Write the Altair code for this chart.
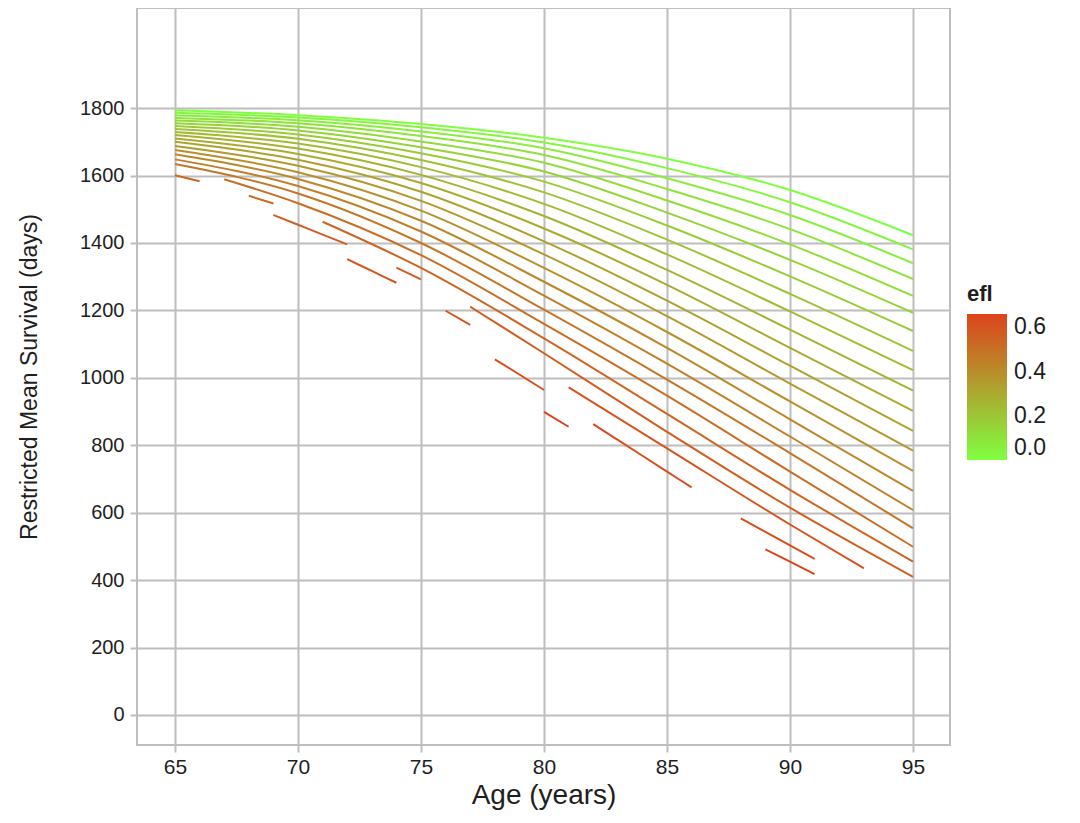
import altair as alt
import pandas as pd

# ---- data ----
EFL = [0.00, 0.03, 0.06, 0.09, 0.12, 0.15, 0.18, 0.21, 0.24, 0.27, 0.30, 0.33,
       0.36, 0.39, 0.42, 0.45, 0.48, 0.51, 0.54, 0.57, 0.60, 0.63, 0.66]

AGE_KNOTS = [65, 70, 75, 80, 85, 90, 95]

# curves 0..16 are drawn over the whole age range
RMS_65 = [1794, 1786, 1778, 1771, 1763, 1755, 1747, 1738, 1729, 1720, 1710, 1700, 1688, 1676, 1663, 1648, 1634]
RMS_70 = [1779, 1772, 1764, 1755, 1745, 1734, 1722, 1709, 1695, 1680, 1664, 1647, 1629, 1610, 1590, 1569, 1547]
RMS_75 = [1753, 1743, 1731, 1717, 1701, 1684, 1666, 1646, 1625, 1602, 1578, 1552, 1525, 1496, 1466, 1434, 1400]
RMS_80 = [1712, 1698, 1681, 1661, 1638, 1612, 1582, 1550, 1516, 1480, 1443, 1405, 1366, 1326, 1285, 1244, 1202]
RMS_85 = [1650, 1622, 1592, 1560, 1526, 1490, 1452, 1410, 1366, 1320, 1276, 1229, 1183, 1136, 1089, 1042, 995]
RMS_90 = [1557, 1521, 1483, 1441, 1396, 1350, 1301, 1249, 1197, 1143, 1089, 1036, 983, 930, 877, 826, 777]
RMS_95 = [1423, 1381, 1340, 1293, 1243, 1193, 1139, 1080, 1023, 962, 902, 843, 784, 724, 665, 608, 554]

# curves 17..22 are broken into pieces: [(age, rms), ...]
C17_PIECES = [[(67, 1589), (70, 1518), (75, 1364), (80, 1160), (85, 947), (90, 722), (95, 499)]]
C18_PIECES = [[(65, 1601), (66, 1583)],
              [(68, 1540), (69, 1517)],
              [(71, 1463), (75, 1326), (80, 1117), (85, 893), (90, 668), (95, 455)]]
C19_PIECES = [[(69, 1483), (70, 1454), (71, 1425), (72, 1396)],
              [(74, 1327), (75, 1292)],
              [(77, 1211), (80, 1073), (85, 840), (90, 615), (95, 410)]]
C20_PIECES = [[(72, 1352), (73, 1317), (74, 1282)],
              [(76, 1199), (77, 1157)],
              [(81, 972), (85, 791), (90, 565), (93, 435)]]
C21_PIECES = [[(78, 1055), (79, 1010), (80, 964)],
              [(82, 863), (83, 816), (84, 769), (85, 722), (86, 675)],
              [(88, 583), (89, 543), (90, 503), (91, 463)]]
C22_PIECES = [[(80, 899), (81, 855)],
              [(89, 491), (90, 455), (91, 418)]]

X_TICKS = [65, 70, 75, 80, 85, 90, 95]
Y_TICKS = [0, 200, 400, 600, 800, 1000, 1200, 1400, 1600, 1800]
LEGEND_TICKS = [0.0, 0.2, 0.4, 0.6]

# ---- build long table ----
rows = []
columns = [RMS_65, RMS_70, RMS_75, RMS_80, RMS_85, RMS_90, RMS_95]
for k in range(len(RMS_65)):
    for age, col in zip(AGE_KNOTS, columns):
        rows.append({"efl": EFL[k], "age": age, "rms": col[k], "seg": f"c{k}-p0"})

partial = {17: C17_PIECES, 18: C18_PIECES, 19: C19_PIECES,
           20: C20_PIECES, 21: C21_PIECES, 22: C22_PIECES}
for k, pieces in partial.items():
    for p, piece in enumerate(pieces):
        for age, v in piece:
            rows.append({"efl": EFL[k], "age": age, "rms": v, "seg": f"c{k}-p{p}"})

df = pd.DataFrame(rows)

GRID = "#BEBEBE"
TXT = "#1E1E1E"

chart = alt.Chart(df).mark_line(strokeWidth=2, interpolate="monotone").encode(
    x=alt.X("age:Q",
            scale=alt.Scale(domain=[63.455, 96.504], nice=False, zero=False),
            axis=alt.Axis(values=X_TICKS, title="Age (years)", format="d",
                          labelFontSize=21, titleFontSize=28, titleFontWeight="normal",
                          labelColor=TXT, titleColor=TXT, labelPadding=4,
                          tickSize=7, tickColor=GRID, tickWidth=2,
                          grid=True, gridColor=GRID, gridWidth=2,
                          domain=False, titlePadding=4)),
    y=alt.Y("rms:Q",
            scale=alt.Scale(domain=[-89, 2097], nice=False, zero=False),
            axis=alt.Axis(values=Y_TICKS, title="Restricted Mean Survival (days)", format="d",
                          labelFontSize=20, titleFontSize=23, titleFontWeight="normal",
                          labelColor=TXT, titleColor=TXT, labelPadding=6,
                          tickSize=7, tickColor=GRID, tickWidth=2,
                          grid=True, gridColor=GRID, gridWidth=2,
                          domain=False, titlePadding=38)),
    color=alt.Color("efl:Q",
                    scale=alt.Scale(domain=[0, 0.66], range=["#80FF40", "#DE431C"],
                                    interpolate="rgb"),
                    legend=alt.Legend(title="efl", orient="none", legendX=830, legendY=276,
                                      values=LEGEND_TICKS, format=".1f",
                                      gradientLength=146, gradientThickness=40,
                                      titleFontSize=22, titleFontWeight="bold",
                                      titleColor=TXT, labelColor=TXT, labelFontSize=23,
                                      labelBaseline="middle",
                                      titlePadding=8, labelOffset=7,
                                      gradientStrokeWidth=0)),
    detail="seg:N",
    order="age:Q",
).properties(
    width=813, height=737,
    padding={"left": 129, "top": 0, "right": 120, "bottom": 70},
    autosize=alt.AutoSizeParams(type="none"),
).configure(
    font="Liberation Sans",
).configure_view(
    stroke=GRID, strokeWidth=2,
)

chart.save("out.html", embed_options={"renderer": "svg", "actions": False})
